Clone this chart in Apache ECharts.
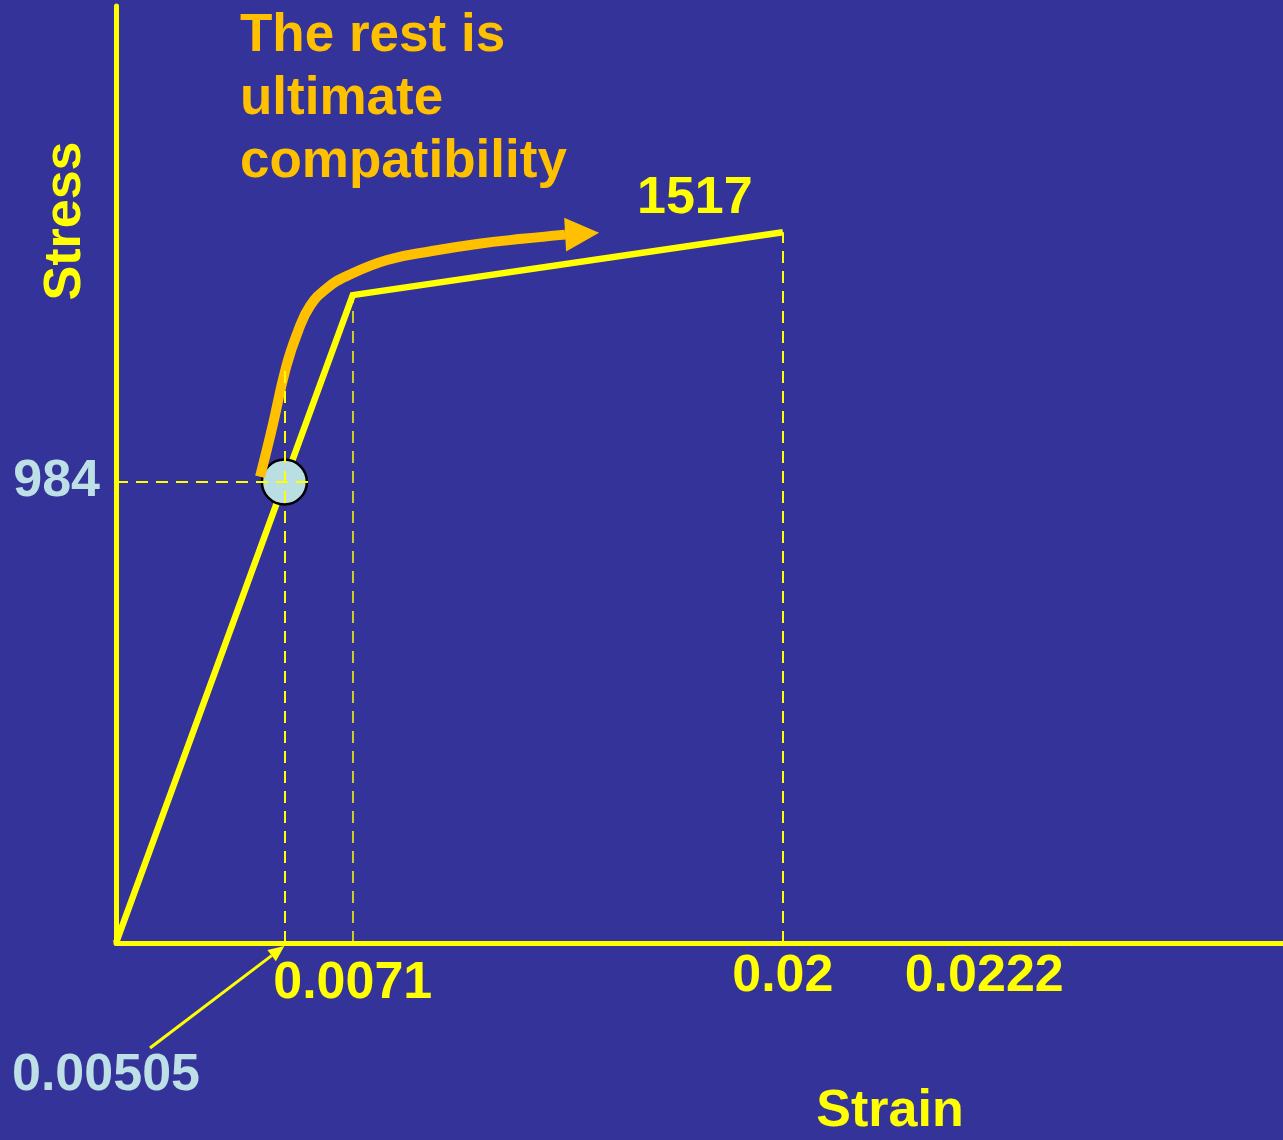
<!DOCTYPE html>
<html>
<head>
<meta charset="utf-8">
<script src="https://cdn.jsdelivr.net/npm/echarts@6/dist/echarts.min.js"></script>
<style>
  html, body { margin: 0; padding: 0; background: #333399; }
  #chart { width: 1283px; height: 1140px; }
</style>
</head>
<body>
<div id="chart"></div>
<script>
// Bilinear stress–strain model of the prestressing strand
const modelStrain = [0, 0.0071, 0.02];
const modelStress = [0, 1383, 1517];

// Effective prestress state (marked with a circle)
const effStrain = 0.00505;
const effStress = 984;

// Values written along the axes
const strainTicks = [0.0071, 0.02, 0.0222];
const strainTickText = ['0.0071', '0.02', '0.0222'];
const stressTicks = [984];
const stressTickText = ['984'];

// Sketched path of the ultimate-compatibility curve (strain, stress)
const curveStrain = [0.00432, 0.00468, 0.0051, 0.00546, 0.00582, 0.00633, 0.00693, 0.00813, 0.00948, 0.01083, 0.01218, 0.01347];
const curveStress = [995, 1099, 1229, 1306, 1360, 1398, 1424, 1458, 1477, 1492, 1503, 1512];
const curveArrowHead = [0.01398, 1514];

const YELLOW = '#FFFF00';
const ORANGE = '#FFC000';
const PALE = '#BDE0E6';
const BG = '#333399';
const FONT = "'Liberation Sans', Arial, Helvetica, sans-serif";

const chart = echarts.init(document.getElementById('chart'), null, { renderer: 'canvas' });

const modelData = modelStrain.map((s, i) => {
  const item = { value: [s, modelStress[i]] };
  if (i === modelStrain.length - 1) {
    item.label = {
      show: true,
      position: 'top',
      offset: [-88, -3],
      formatter: String(modelStress[i]),
      color: YELLOW,
      fontSize: 52,
      fontWeight: 'bold',
      fontFamily: FONT
    };
  }
  return item;
});

const curveData = curveStrain.map((s, i) => [s, curveStress[i]]);
const lastCurve = curveData[curveData.length - 1];

const dashed = (x1, y1, x2, y2, width) => [
  { coord: [x1, y1], lineStyle: { width: width, type: [12, 8], color: YELLOW } },
  { coord: [x2, y2] }
];

const option = {
  backgroundColor: BG,
  animation: false,
  grid: { left: 116, right: 0, top: 6, bottom: 197, outerBoundsMode: 'none' },
  xAxis: {
    type: 'value',
    min: 0,
    max: 0.035,
    name: 'Strain',
    nameLocation: 'middle',
    nameGap: 143,
    nameTextStyle: {
      color: YELLOW, fontSize: 52, fontWeight: 'bold', fontFamily: FONT,
      padding: [0, 0, 0, 381]
    },
    axisLine: { onZero: false, lineStyle: { color: YELLOW, width: 5 } },
    axisTick: { show: false },
    splitLine: { show: false },
    axisLabel: {
      customValues: strainTicks,
      margin: 8,
      formatter: (v) => {
        const i = strainTicks.findIndex(t => Math.abs(t - v) < 1e-9);
        const txt = i >= 0 ? strainTickText[i] : '';
        if (i === 0) return '{low|' + txt + '}';
        if (i === 2) return '{far|' + txt + '}';
        return '{std|' + txt + '}';
      },
      rich: {
        std: { color: YELLOW, fontSize: 52, fontWeight: 'bold', fontFamily: FONT },
        low: { color: YELLOW, fontSize: 52, fontWeight: 'bold', fontFamily: FONT, padding: [7, 0, 0, 0] },
        far: { color: YELLOW, fontSize: 52, fontWeight: 'bold', fontFamily: FONT, padding: [0, 0, 0, 256] }
      }
    }
  },
  yAxis: {
    type: 'value',
    min: 0,
    max: 2000,
    axisLine: { show: true, onZero: false, lineStyle: { color: YELLOW, width: 5 } },
    axisTick: { show: false },
    splitLine: { show: false },
    axisLabel: {
      customValues: stressTicks,
      margin: 16,
      formatter: (v) => {
        const i = stressTicks.findIndex(t => Math.abs(t - v) < 1e-6);
        return i >= 0 ? stressTickText[i] : '';
      },
      color: PALE,
      fontSize: 52,
      fontWeight: 'bold',
      fontFamily: FONT
    }
  },
  series: [
    {
      name: 'Stress–strain model',
      type: 'line',
      z: 2,
      data: modelData,
      symbol: 'circle',
      symbolSize: 0,
      showSymbol: true,
      lineStyle: { color: YELLOW, width: 6.5, join: 'miter' },
      itemStyle: { color: YELLOW },
      markLine: {
        silent: true,
        symbol: 'none',
        label: { show: false },
        data: [
          dashed(effStrain, 0, effStrain, 1230, 2),
          dashed(0, effStress, 0.00595, effStress, 2),
          dashed(modelStrain[1], 0, modelStrain[1], modelStress[1], 1.5),
          dashed(modelStrain[2], 0, modelStrain[2], modelStress[2], 2)
        ]
      }
    },
    {
      name: 'Effective prestress',
      type: 'scatter',
      z: 3,
      data: [[effStrain, effStress]],
      symbol: 'circle',
      symbolSize: 45,
      itemStyle: { color: '#B9DFE3', borderColor: '#000000', borderWidth: 2.5, opacity: 1 }
    },
    {
      name: 'Ultimate compatibility',
      type: 'line',
      z: 4,
      data: curveData,
      smooth: 0.45,
      showSymbol: false,
      lineStyle: { color: ORANGE, width: 10, cap: 'butt' },
      itemStyle: { color: ORANGE },
      markLine: {
        silent: true,
        symbol: ['none', 'triangle'],
        symbolSize: 34,
        label: { show: false },
        lineStyle: { color: ORANGE, width: 10, type: 'solid' },
        data: [[{ coord: lastCurve }, { coord: curveArrowHead }]]
      }
    }
  ]
};

chart.setOption(option);

// Annotations placed around the plotting area
const tip = chart.convertToPixel({ xAxisIndex: 0, yAxisIndex: 0 }, [effStrain, 0]);
const start = [150, 1048];
const end = [tip[0], tip[1] + 3];
const dx = end[0] - start[0], dy = end[1] - start[1];
const len = Math.hypot(dx, dy);
const ux = dx / len, uy = dy / len;
const headLen = 16, headHalf = 7;
const baseX = end[0] - ux * headLen, baseY = end[1] - uy * headLen;

chart.setOption({
  graphic: [
    {
      type: 'text',
      x: 66,
      y: 221,
      rotation: Math.PI / 2,
      z: 10,
      style: {
        text: 'Stress',
        fill: YELLOW,
        fontSize: 52,
        fontWeight: 'bold',
        fontFamily: FONT,
        align: 'center',
        verticalAlign: 'middle'
      }
    },
    {
      type: 'text',
      x: 240,
      y: 5,
      z: 10,
      style: {
        text: 'The rest is\nultimate\ncompatibility',
        fill: ORANGE,
        fontSize: 53,
        fontWeight: 'bold',
        fontFamily: FONT,
        lineHeight: 63
      }
    },
    {
      type: 'text',
      x: 12,
      y: 1050,
      z: 10,
      style: {
        text: '0.00505',
        fill: PALE,
        fontSize: 52,
        fontWeight: 'bold',
        fontFamily: FONT
      }
    },
    {
      type: 'line',
      z: 10,
      shape: { x1: start[0], y1: start[1], x2: baseX, y2: baseY },
      style: { stroke: YELLOW, lineWidth: 3 }
    },
    {
      type: 'polygon',
      z: 10,
      shape: {
        points: [
          end,
          [baseX - uy * headHalf, baseY + ux * headHalf],
          [baseX + uy * headHalf, baseY - ux * headHalf]
        ]
      },
      style: { fill: YELLOW }
    }
  ]
});
</script>
</body>
</html>
